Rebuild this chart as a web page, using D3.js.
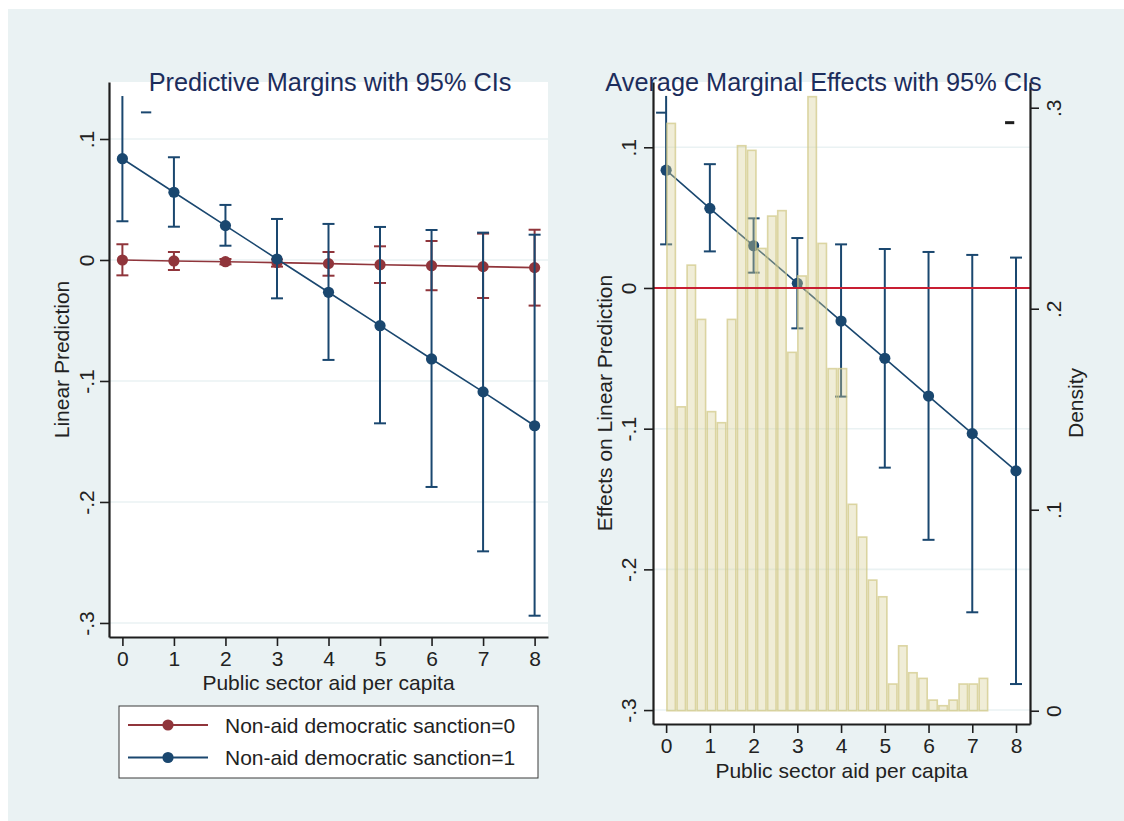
<!DOCTYPE html>
<html>
<head>
<meta charset="utf-8">
<title>Predictive margins and marginal effects</title>
<script src="https://cdn.jsdelivr.net/npm/d3@7"></script>
<style>
  body { margin: 0; background: #fff; }
  text { font-family: "Liberation Sans", Arial, sans-serif; }
</style>
</head>
<body>
<script>
// ---- data ----
var xVals = [0, 1, 2, 3, 4, 5, 6, 7, 8];
var xTicks = [0, 1, 2, 3, 4, 5, 6, 7, 8];
var yTicks = [0.1, 0, -0.1, -0.2, -0.3];
var densityTicks = [0, 0.1, 0.2, 0.3];

// predictive margins, sanction = 0
var pm0   = [0.000, -0.0008, -0.0014, -0.0022, -0.0030, -0.0039, -0.0047, -0.0055, -0.0063];
var pm0Lo = [-0.0127, -0.0083, -0.0036, -0.0055, -0.0130, -0.0190, -0.0250, -0.0314, -0.0377];
var pm0Hi = [0.0130, 0.0066, 0.0008, 0.0005, 0.0066, 0.0113, 0.0157, 0.0218, 0.0250];
// predictive margins, sanction = 1
var pm1   = [0.0837, 0.0560, 0.0284, 0.0008, -0.0267, -0.0543, -0.0818, -0.1090, -0.1370];
var pm1Lo = [0.0320, 0.0275, 0.0118, -0.0317, -0.0826, -0.1350, -0.1876, -0.2408, -0.2940];
var pm1Hi = [0.1355, 0.0849, 0.0455, 0.0339, 0.0298, 0.0273, 0.0248, 0.0226, 0.0209];
var pm1NoTopCap = [0];

// average marginal effects
var ame   = [0.0837, 0.0566, 0.0300, 0.0033, -0.0235, -0.0500, -0.0768, -0.1035, -0.1300];
var ameLo = [0.0310, 0.0260, 0.0109, -0.0287, -0.0772, -0.1277, -0.1790, -0.2305, -0.2815];
var ameHi = [0.1365, 0.0880, 0.0495, 0.0355, 0.0310, 0.0277, 0.0256, 0.0235, 0.0216];
var ameNoTopCap = [0];

// histogram of public sector aid per capita
var histStart = 0, histWidth = 0.2303;
var histDensity = [0.2922, 0.1512, 0.2217, 0.1947, 0.1488, 0.1433, 0.1947, 0.2811,
                   0.2788, 0.2300, 0.2461, 0.2488, 0.1783, 0.2163, 0.3055, 0.2325,
                   0.1702, 0.1702, 0.1027, 0.0864, 0.0650, 0.0567, 0.0133, 0.0323,
                   0.0189, 0.0161, 0.0053, 0.0025, 0.0053, 0.0133, 0.0133, 0.0161];

// stray short dashes seen in the picture (data units)
var leftDashes  = [{x0: 0.36, x1: 0.56, y: 0.122, c: "navy"}];
var rightDashes = [{x0: -0.23, x1: 0, y: 0.1246, c: "navy"},
                   {x0: 7.75, x1: 7.96, y: 0.1175, c: "black"}];

var seriesNames = ["Non-aid democratic sanction=0", "Non-aid democratic sanction=1"];

// ---- look ----
var width = 1124, height = 821;
var navy = "#1a476f", maroon = "#90353b", lineRed = "#c81e32";
var bg = "#eaf2f3", axisCol = "#1e1e1e", textCol = "#222", titleCol = "#1c2d5c";
var fs = 21;

var svg = d3.select("body").append("svg")
    .attr("width", width)
    .attr("height", height);

svg.append("rect").attr("width", width).attr("height", height).attr("fill", "#fff");
svg.append("rect").attr("x", 8).attr("y", 9).attr("width", width - 8).attr("height", height - 9).attr("fill", bg);

var fmt = function(d) {
  if (Math.abs(d) < 1e-9) return "0";
  return d.toFixed(1).replace("0.", ".");
};

function drawSeries(g, x, y, vals, lo, hi, color, noTop) {
  var idx = d3.range(vals.length);
  g.append("g").selectAll("line").data(idx).join("line")
    .attr("x1", i => x(xVals[i])).attr("x2", i => x(xVals[i]))
    .attr("y1", i => y(lo[i])).attr("y2", i => y(hi[i]))
    .attr("stroke", color).attr("stroke-width", 2);
  g.append("g").selectAll("line").data(idx.filter(i => noTop.indexOf(i) < 0)).join("line")
    .attr("x1", i => x(xVals[i]) - 6).attr("x2", i => x(xVals[i]) + 6)
    .attr("y1", i => y(hi[i])).attr("y2", i => y(hi[i]))
    .attr("stroke", color).attr("stroke-width", 2);
  g.append("g").selectAll("line").data(idx).join("line")
    .attr("x1", i => x(xVals[i]) - 6).attr("x2", i => x(xVals[i]) + 6)
    .attr("y1", i => y(lo[i])).attr("y2", i => y(lo[i]))
    .attr("stroke", color).attr("stroke-width", 2);
  g.append("path")
    .datum(idx)
    .attr("d", d3.line().x(i => x(xVals[i])).y(i => y(vals[i])))
    .attr("fill", "none").attr("stroke", color).attr("stroke-width", 1.6);
  g.append("g").selectAll("circle").data(idx).join("circle")
    .attr("cx", i => x(xVals[i])).attr("cy", i => y(vals[i])).attr("r", 5.6)
    .attr("fill", color);
}

function styleAxis(g) {
  g.select(".domain").attr("stroke", axisCol).attr("stroke-width", 2.2);
  g.selectAll(".tick line").attr("stroke", axisCol).attr("stroke-width", 1.6);
  g.selectAll(".tick text").attr("fill", textCol).style("font-size", fs + "px")
    .style("font-family", '"Liberation Sans", Arial, sans-serif');
}

// ---------- left panel: predictive margins ----------
var L = {x0: 109, x1: 548, y0: 82, y1: 637};
var xL = d3.scaleLinear().domain([-0.26, 8.26]).range([L.x0, L.x1]);
var yL = d3.scaleLinear().domain([0.1471, -0.3116]).range([L.y0, L.y1]);

var gl = svg.append("g");
gl.append("rect").attr("x", L.x0).attr("y", L.y0)
  .attr("width", L.x1 - L.x0).attr("height", L.y1 - L.y0).attr("fill", "#fff");

gl.selectAll(".grid").data(yTicks).join("line")
  .attr("x1", L.x0).attr("x2", L.x1)
  .attr("y1", d => yL(d)).attr("y2", d => yL(d))
  .attr("stroke", bg).attr("stroke-width", 1.6);

drawSeries(gl, xL, yL, pm0, pm0Lo, pm0Hi, maroon, []);
drawSeries(gl, xL, yL, pm1, pm1Lo, pm1Hi, navy, pm1NoTopCap);

gl.selectAll(".dash").data(leftDashes).join("line")
  .attr("x1", d => xL(d.x0)).attr("x2", d => xL(d.x1))
  .attr("y1", d => yL(d.y)).attr("y2", d => yL(d.y))
  .attr("stroke", d => d.c === "navy" ? navy : axisCol).attr("stroke-width", 2);

gl.append("g").attr("transform", "translate(0," + L.y1 + ")")
  .call(d3.axisBottom(xL).tickValues(xTicks).tickSize(9).tickSizeOuter(0).tickPadding(5))
  .call(styleAxis);

gl.append("g").attr("transform", "translate(" + L.x0 + ",0)")
  .call(d3.axisLeft(yL).tickValues(yTicks).tickFormat(fmt).tickSize(9).tickSizeOuter(0))
  .call(styleAxis)
  .call(g => g.selectAll(".tick text")
    .attr("transform", "rotate(-90)").attr("x", 0).attr("y", -23)
    .attr("dy", "0.36em").attr("text-anchor", "middle"));

gl.append("text").attr("x", 330).attr("y", 91).attr("text-anchor", "middle")
  .attr("fill", titleCol).style("font-size", "25.3px").text("Predictive Margins with 95% CIs");
gl.append("text").attr("x", (L.x0 + L.x1) / 2).attr("y", 690).attr("text-anchor", "middle")
  .attr("fill", textCol).style("font-size", fs + "px").text("Public sector aid per capita");
gl.append("text").attr("transform", "translate(61.5," + (L.y0 + L.y1) / 2 + ") rotate(-90)")
  .attr("dy", "0.36em").attr("text-anchor", "middle")
  .attr("fill", textCol).style("font-size", fs + "px").text("Linear Prediction");

// legend
var leg = svg.append("g");
leg.append("rect").attr("x", 119).attr("y", 706).attr("width", 419).attr("height", 72)
  .attr("fill", "#fff").attr("stroke", "#3a3a3a").attr("stroke-width", 1);
var legColors = [maroon, navy];
var legRow = leg.selectAll(".row").data(seriesNames).join("g")
  .attr("transform", (d, i) => "translate(0," + (725 + i * 32.5) + ")");
legRow.append("line").attr("x1", 128).attr("x2", 208)
  .attr("stroke", (d, i) => legColors[i]).attr("stroke-width", 1.8);
legRow.append("circle").attr("cx", 168).attr("r", 5.6).attr("fill", (d, i) => legColors[i]);
legRow.append("text").attr("x", 225).attr("dy", "0.36em").attr("fill", textCol)
  .style("font-size", fs + "px").text(d => d);

// ---------- right panel: average marginal effects ----------
var R = {x0: 653, x1: 1030, y0: 82, y1: 724};
var xR = d3.scaleLinear().domain([-0.30, 8.32]).range([R.x0, R.x1]);
var yR = d3.scaleLinear().domain([0.1464, -0.3099]).range([R.y0, R.y1]);
var yD = d3.scaleLinear().domain([0.3128, -0.0066]).range([R.y0, R.y1]);

var gr = svg.append("g");
gr.append("rect").attr("x", R.x0).attr("y", R.y0)
  .attr("width", R.x1 - R.x0).attr("height", R.y1 - R.y0).attr("fill", "#fff");
gr.selectAll(".grid").data(yTicks).join("line")
  .attr("x1", R.x0).attr("x2", R.x1)
  .attr("y1", d => yR(d)).attr("y2", d => yR(d))
  .attr("stroke", bg).attr("stroke-width", 1.6);

drawSeries(gr, xR, yR, ame, ameLo, ameHi, navy, ameNoTopCap);

gr.selectAll(".dash").data(rightDashes).join("line")
  .attr("x1", d => xR(d.x0)).attr("x2", d => xR(d.x1))
  .attr("y1", d => yR(d.y)).attr("y2", d => yR(d.y))
  .attr("stroke", d => d.c === "navy" ? navy : axisCol)
  .attr("stroke-width", d => d.c === "navy" ? 2 : 3);

// histogram drawn over the estimates
gr.append("g").selectAll("rect").data(histDensity).join("rect")
  .attr("x", (d, i) => xR(histStart + i * histWidth) + 0.8)
  .attr("width", xR(histWidth) - xR(0) - 1.6)
  .attr("y", d => yD(d))
  .attr("height", d => yD(0) - yD(d))
  .attr("fill", "#d8d095").attr("fill-opacity", 0.38)
  .attr("stroke", "#d2c98a").attr("stroke-opacity", 0.75).attr("stroke-width", 1.6);

gr.append("line").attr("x1", R.x0).attr("x2", R.x1)
  .attr("y1", yR(0)).attr("y2", yR(0))
  .attr("stroke", lineRed).attr("stroke-width", 2);

gr.append("g").attr("transform", "translate(0," + R.y1 + ")")
  .call(d3.axisBottom(xR).tickValues(xTicks).tickSize(9).tickSizeOuter(0).tickPadding(5))
  .call(styleAxis);

gr.append("g").attr("transform", "translate(" + R.x0 + ",0)")
  .call(d3.axisLeft(yR).tickValues(yTicks).tickFormat(fmt).tickSize(9).tickSizeOuter(0))
  .call(styleAxis)
  .call(g => g.selectAll(".tick text")
    .attr("transform", "rotate(-90)").attr("x", 0).attr("y", -25)
    .attr("dy", "0.36em").attr("text-anchor", "middle"));

gr.append("g").attr("transform", "translate(" + R.x1 + ",0)")
  .call(d3.axisRight(yD).tickValues(densityTicks).tickFormat(fmt).tickSize(9).tickSizeOuter(0))
  .call(styleAxis)
  .call(g => g.selectAll(".tick text")
    .attr("transform", "rotate(-90)").attr("x", 0).attr("y", 23.5)
    .attr("dy", "0.36em").attr("text-anchor", "middle"));

gr.append("text").attr("x", 823.5).attr("y", 91).attr("text-anchor", "middle")
  .attr("fill", titleCol).style("font-size", "25.3px").text("Average Marginal Effects with 95% CIs");
gr.append("text").attr("x", (R.x0 + R.x1) / 2).attr("y", 778).attr("text-anchor", "middle")
  .attr("fill", textCol).style("font-size", fs + "px").text("Public sector aid per capita");
gr.append("text").attr("transform", "translate(604.5," + (R.y0 + R.y1) / 2 + ") rotate(-90)")
  .attr("dy", "0.36em").attr("text-anchor", "middle")
  .attr("fill", textCol).style("font-size", fs + "px").text("Effects on Linear Prediction");
gr.append("text").attr("transform", "translate(1075," + (R.y0 + R.y1) / 2 + ") rotate(-90)")
  .attr("dy", "0.36em").attr("text-anchor", "middle")
  .attr("fill", textCol).style("font-size", fs + "px").text("Density");
</script>
</body>
</html>
